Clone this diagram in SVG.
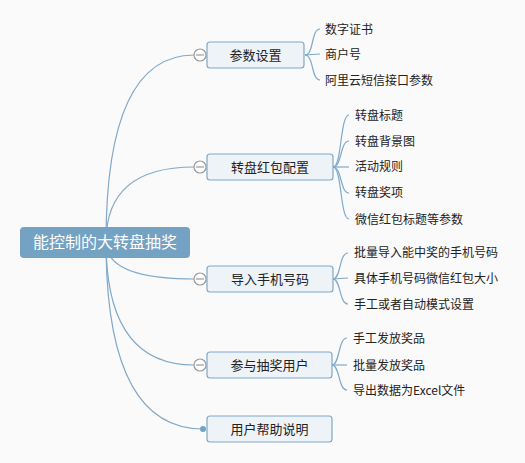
<svg xmlns="http://www.w3.org/2000/svg" width="525" height="463" viewBox="0 0 525 463">
<style>
text{font-family:"Noto Sans CJK SC","Liberation Sans",sans-serif;}
.c{fill:none;stroke:#7FA8C9;stroke-width:1.2;}
.b{fill:#EEF3F8;stroke:#7FA8C9;stroke-width:1.2;}
.bt{font-size:13px;fill:#222;text-anchor:middle;}
.lt{font-size:12px;fill:#222;}
.col{fill:#fff;stroke:#9A9A9A;stroke-width:1.2;}
.m{stroke:#9A9A9A;stroke-width:1.2;}
</style>
<rect width="525" height="463" fill="#FAFAFA"/>
<g id="connectors">
<path class="c" d="M106,242 Q106,55 194,55"/>
<path class="c" d="M106,242 Q106,167 194,167"/>
<path class="c" d="M106,242 Q106,279 194,279"/>
<path class="c" d="M106,242 Q106,365 194,365"/>
<path class="c" d="M106,242 Q106,429 203,429"/>
<path class="c" d="M305,55 C314,55 311,29 320,29"/>
<path class="c" d="M305,55 L320,54"/>
<path class="c" d="M305,55 C314,55 311,80 320,80"/>
<path class="c" d="M333,167 C342,167 340,115 349,115"/>
<path class="c" d="M333,167 C342,167 340,141 349,141"/>
<path class="c" d="M333,167 L349,167"/>
<path class="c" d="M333,167 C342,167 340,193 349,193"/>
<path class="c" d="M333,167 C342,167 340,219 349,219"/>
<path class="c" d="M333,279 C341,279 339,253 348,253"/>
<path class="c" d="M333,279 L348,278"/>
<path class="c" d="M333,279 C341,279 339,304 348,304"/>
<path class="c" d="M332,365 C340,365 338,338 347,338"/>
<path class="c" d="M332,365 L347,365"/>
<path class="c" d="M332,365 C340,365 338,390 347,390"/>
</g>
<g id="root">
<rect x="20" y="227" width="170" height="31" rx="4" fill="#74A2C2"/>
<text x="105" y="248" font-size="16" fill="#fff" text-anchor="middle">能控制的大转盘抽奖</text>
</g>
<g id="n1">
<rect class="b" x="207" y="42" width="97" height="26" rx="3"/>
<text class="bt" x="255.5" y="59.5">参数设置</text>
<circle class="col" cx="200" cy="55" r="6"/><line class="m" x1="196" y1="55" x2="204" y2="55"/>
</g>
<g id="n2">
<rect class="b" x="207" y="154" width="126" height="26" rx="3"/>
<text class="bt" x="270" y="171.5">转盘红包配置</text>
<circle class="col" cx="200" cy="167" r="6"/><line class="m" x1="196" y1="167" x2="204" y2="167"/>
</g>
<g id="n3">
<rect class="b" x="207" y="266" width="126" height="26" rx="3"/>
<text class="bt" x="270" y="283.5">导入手机号码</text>
<circle class="col" cx="200" cy="279" r="6"/><line class="m" x1="196" y1="279" x2="204" y2="279"/>
</g>
<g id="n4">
<rect class="b" x="207" y="352" width="125" height="26" rx="3"/>
<text class="bt" x="269.5" y="369.5">参与抽奖用户</text>
<circle class="col" cx="200" cy="365" r="6"/><line class="m" x1="196" y1="365" x2="204" y2="365"/>
</g>
<g id="n5">
<rect class="b" x="207" y="416" width="125" height="26" rx="3"/>
<text class="bt" x="269.5" y="433.5">用户帮助说明</text>
<circle cx="203" cy="429" r="3" fill="#74A2C2"/>
</g>
<g id="leaves">
<text class="lt" x="325" y="33.5">数字证书</text>
<text class="lt" x="325" y="58.5">商户号</text>
<text class="lt" x="325" y="84.5">阿里云短信接口参数</text>
<text class="lt" x="355" y="119.5">转盘标题</text>
<text class="lt" x="355" y="145.5">转盘背景图</text>
<text class="lt" x="355" y="171">活动规则</text>
<text class="lt" x="355" y="197">转盘奖项</text>
<text class="lt" x="355" y="223.5">微信红包标题等参数</text>
<text class="lt" x="354" y="257">批量导入能中奖的手机号码</text>
<text class="lt" x="354" y="282.5">具体手机号码微信红包大小</text>
<text class="lt" x="354" y="308.5">手工或者自动模式设置</text>
<text class="lt" x="353" y="342.5">手工发放奖品</text>
<text class="lt" x="353" y="369.5">批量发放奖品</text>
<text class="lt" x="353" y="394.5">导出数据为Excel文件</text>
</g>
</svg>
